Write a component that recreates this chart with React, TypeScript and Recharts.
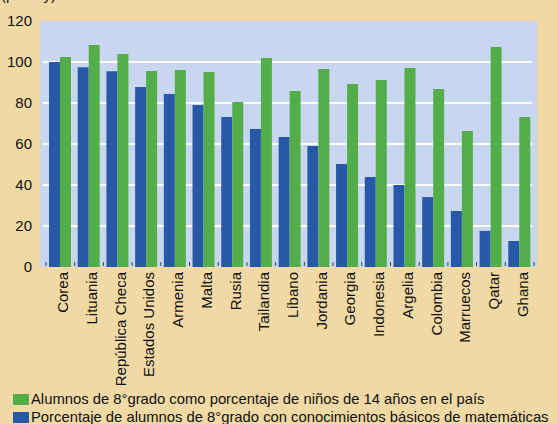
import React from "react";
import { BarChart, Bar, XAxis, YAxis, CartesianGrid } from "recharts";

const countries = [
  "Corea", "Lituania", "República Checa", "Estados Unidos", "Armenia", "Malta", "Rusia",
  "Tailandia", "Líbano", "Jordania", "Georgia", "Indonesia", "Argelia", "Colombia",
  "Marruecos", "Qatar", "Ghana",
];
const basicMath = [100, 97.5, 95.5, 87.8, 84.4, 79, 73.2, 67.3, 63.4, 59, 50.2, 43.9, 40, 34.1, 27.3, 17.6, 12.7];
const enrolled = [102.4, 108.3, 103.9, 95.6, 96.1, 95.1, 80.5, 102, 85.9, 96.6, 89.3, 91.2, 97.1, 86.8, 66.3, 107.3, 73.2];
const yTicks = [0, 20, 40, 60, 80, 100, 120];
const legendGreen = "Alumnos de 8°grado como porcentaje de niños de 14 años en el país";
const legendBlue = "Porcentaje de alumnos de 8°grado con conocimientos básicos de matemáticas";
const topNote = "(por ley)";

const data = countries.map((name, i) => ({ name, math: basicMath[i], enrol: enrolled[i] }));

const BG = "#f0d9a5";
const PLOT = "#c8d7ef";
const BLUE = "#2858a8";
const GREEN = "#53ae49";
const FONT = "'Liberation Sans', Arial, sans-serif";

const HALF = 14.35;

const XTick = (props: any) => {
  const { x, y, payload, index } = props;
  const last = index === countries.length - 1;
  return (
    <g>
      <line x1={x - HALF} x2={x - HALF} y1={y - 5} y2={y - 1} stroke="#444" strokeWidth={1} />
      {last && <line x1={x + HALF} x2={x + HALF} y1={y - 5} y2={y - 1} stroke="#444" strokeWidth={1} />}
      <text
        transform={`translate(${x + 8},${y + 5}) rotate(-90)`}
        textAnchor="end"
        fontSize={15}
        fontFamily={FONT}
        fill="#111"
      >
        {payload.value}
      </text>
    </g>
  );
};

const HLine = (props: any) => {
  const { x1, x2, y1 } = props;
  if (y1 < 25 || y1 > 263) return <g key={props.key} />;
  return <line key={props.key} x1={x1 + 3} x2={x2 - 5} y1={y1} y2={y1} stroke="#ffffff" strokeWidth={2} />;
};

export default function App() {
  return (
    <div style={{ position: "fixed", left: 0, top: 0, width: 557, height: 424, background: BG, overflow: "hidden", fontFamily: FONT }}>
      <div style={{ position: "absolute", left: 1, top: -14, fontSize: 15, color: "#111", whiteSpace: "nowrap" }}>{topNote}</div>
      <BarChart
        width={557}
        height={424}
        data={data}
        margin={{ top: 21, right: 20, bottom: 0, left: 0 }}
        barSize={11}
        barGap={0}
      >
        <CartesianGrid vertical={false} horizontal={HLine} fill={PLOT} stroke="none" />
        <XAxis
          dataKey="name"
          interval={0}
          height={157}
          axisLine={false}
          tickLine={false}
          tickSize={0}
          tickMargin={0}
          padding={{ left: 6, right: 3 }}
          tick={<XTick />}
        />
        <YAxis
          domain={[0, 120]}
          ticks={yTicks}
          width={40}
          axisLine={false}
          tickLine={false}
          tickSize={0}
          tickMargin={8}
          tick={{ fontSize: 15, fill: "#111", fontFamily: FONT }}
        />
        <Bar dataKey="math" fill={BLUE} isAnimationActive={false} />
        <Bar dataKey="enrol" fill={GREEN} isAnimationActive={false} />
      </BarChart>
      <div style={{ position: "absolute", left: 13, top: 390, fontSize: 14.8, color: "#111", lineHeight: "18px", whiteSpace: "nowrap" }}>
        <div style={{ display: "flex", alignItems: "center" }}>
          <span style={{ display: "inline-block", width: 16, height: 11, background: GREEN, marginRight: 2 }} />
          <span>{legendGreen}</span>
        </div>
        <div style={{ display: "flex", alignItems: "center" }}>
          <span style={{ display: "inline-block", width: 16, height: 11, background: BLUE, marginRight: 2 }} />
          <span>{legendBlue}</span>
        </div>
      </div>
    </div>
  );
}
